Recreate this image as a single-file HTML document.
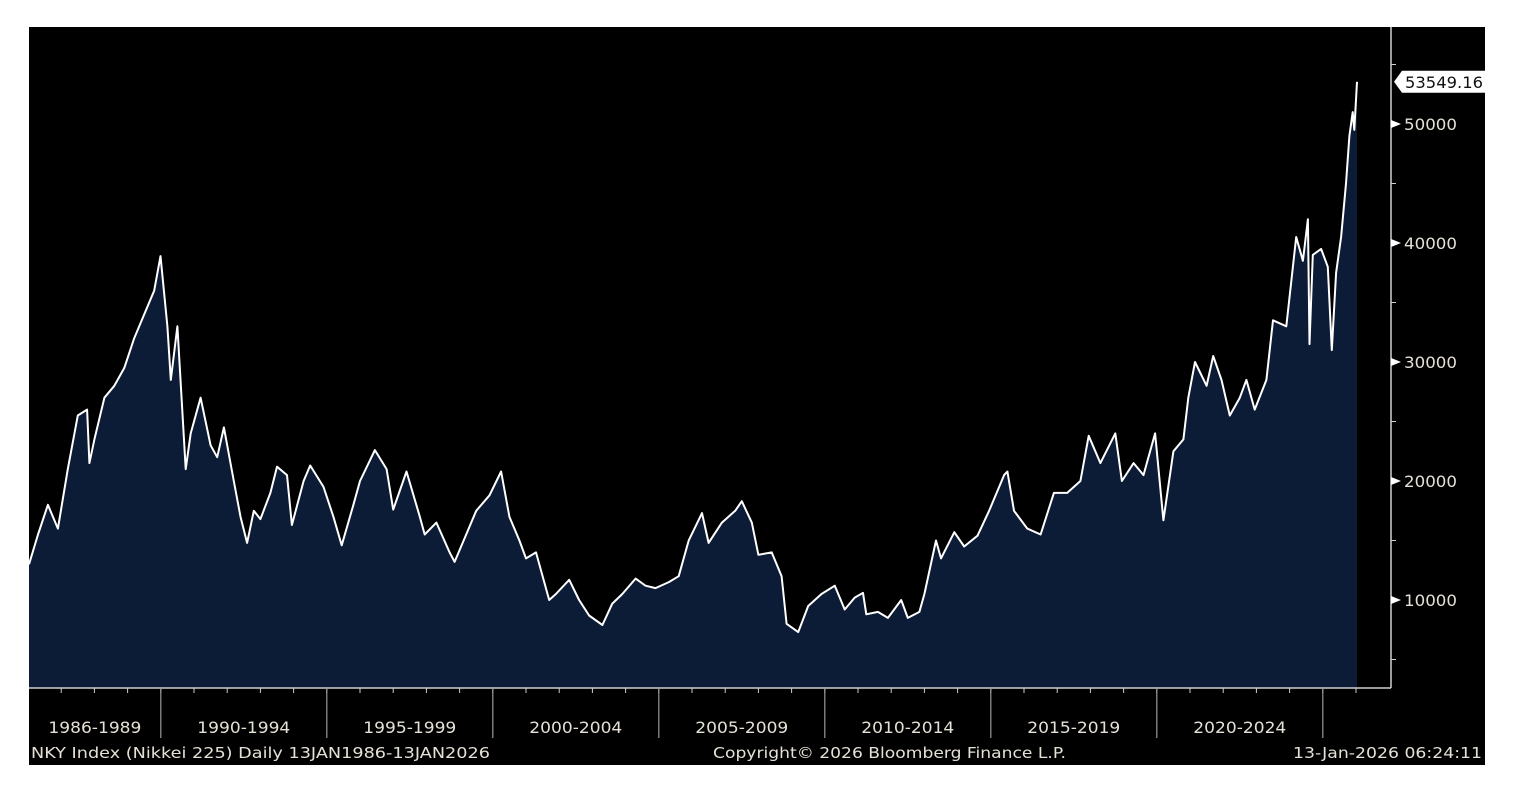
<!DOCTYPE html>
<html><head><meta charset="utf-8"><style>
html,body{margin:0;padding:0;background:#fff;}
svg{display:block;font-family:"DejaVu Sans","Liberation Sans",sans-serif;}
</style></head><body>
<svg id="chart" width="1526" height="798" viewBox="0 0 1526 798" xmlns="http://www.w3.org/2000/svg">
<rect x="29" y="27" width="1456" height="738" fill="#000"/>
<g id="plot"></g>
<g id="axes"></g>
<text x="31" y="758" font-size="15" fill="#e6e1d6" textLength="459" lengthAdjust="spacingAndGlyphs">NKY Index (Nikkei 225) Daily 13JAN1986-13JAN2026</text>
<text x="713" y="758" font-size="15" fill="#e6e1d6" textLength="353" lengthAdjust="spacingAndGlyphs">Copyright© 2026 Bloomberg Finance L.P.</text>
<text x="1293" y="758" font-size="15" fill="#e6e1d6" textLength="189" lengthAdjust="spacingAndGlyphs">13-Jan-2026 06:24:11</text>
</svg>
<script>
const dates=[1986.03,1986.3,1986.6,1986.9,1987.2,1987.5,1987.78,1987.85,1988.0,1988.3,1988.6,1988.9,1989.2,1989.5,1989.8,1989.99,1990.2,1990.3,1990.5,1990.75,1990.9,1991.2,1991.5,1991.7,1991.9,1992.2,1992.4,1992.6,1992.8,1993.0,1993.3,1993.5,1993.8,1993.95,1994.3,1994.5,1994.9,1995.2,1995.45,1995.8,1996.0,1996.45,1996.8,1997.0,1997.4,1997.8,1997.95,1998.3,1998.7,1998.85,1999.2,1999.5,1999.9,2000.25,2000.5,2000.8,2001.0,2001.3,2001.7,2001.9,2002.3,2002.6,2002.9,2003.3,2003.6,2003.9,2004.3,2004.6,2004.9,2005.3,2005.6,2005.9,2006.3,2006.5,2006.9,2007.3,2007.5,2007.8,2008.0,2008.4,2008.7,2008.85,2009.2,2009.5,2009.9,2010.3,2010.6,2010.9,2011.15,2011.25,2011.6,2011.9,2012.3,2012.5,2012.85,2013.0,2013.35,2013.5,2013.9,2014.2,2014.6,2014.95,2015.4,2015.5,2015.7,2016.1,2016.5,2016.9,2017.3,2017.7,2017.95,2018.3,2018.75,2018.95,2019.3,2019.6,2019.95,2020.2,2020.5,2020.8,2020.95,2021.15,2021.5,2021.7,2021.95,2022.2,2022.5,2022.7,2022.95,2023.3,2023.5,2023.9,2024.2,2024.4,2024.55,2024.6,2024.7,2024.95,2025.15,2025.27,2025.4,2025.55,2025.7,2025.8,2025.9,2025.95,2026.03];
const values=[13000,15500,18000,16000,21000,25500,26000,21500,23500,27000,28000,29500,32000,34000,36000,38900,33000,28500,33000,21000,24000,27000,23000,22000,24500,20000,17000,14800,17500,16800,19000,21200,20500,16300,20000,21300,19500,17000,14600,18000,20000,22600,21000,17600,20800,17000,15500,16500,14000,13200,15500,17500,18800,20800,17000,15000,13500,14000,10000,10500,11700,10000,8700,7900,9700,10500,11800,11200,11000,11500,12000,15000,17300,14800,16500,17500,18300,16500,13800,14000,12000,8000,7300,9500,10500,11200,9200,10200,10600,8800,9000,8500,10000,8500,9000,10500,15000,13500,15700,14500,15400,17500,20500,20800,17500,16000,15500,19000,19000,20000,23800,21500,24000,20000,21500,20500,24000,16700,22500,23500,27000,30000,28000,30500,28500,25500,27000,28500,26000,28500,33500,33000,40500,38500,42000,31500,39000,39500,38000,31000,37500,40500,45000,49000,51000,49500,53549];
const yTicks=[10000,20000,30000,40000,50000];
const yMinor=[5000,15000,25000,35000,45000,55000];
const periodLabels=["1986-1989","1990-1994","1995-1999","2000-2004","2005-2009","2010-2014","2015-2019","2020-2024"];
const periodStarts=[1986.03,1990,1995,2000,2005,2010,2015,2020];
const lastValueLabel="53549.16";

const NS="http://www.w3.org/2000/svg";
const X0=29,XR=1391,YB=688,YT=27;
const xS=d=>29+(d-1986.03)*33.2;
const yS=v=>600-(v-10000)*0.0119;
function mk(tag,attrs,parent){const e=document.createElementNS(NS,tag);for(const k in attrs)e.setAttribute(k,attrs[k]);parent.appendChild(e);return e;}
const plot=document.getElementById('plot'),axes=document.getElementById('axes');
let pts=dates.map((d,i)=>xS(d).toFixed(1)+","+yS(values[i]).toFixed(1));
const area=mk('polygon',{points:xS(dates[0])+","+YB+" "+pts.join(" ")+" "+xS(dates[dates.length-1])+","+YB,fill:"#0c1b36"},plot);


const line=mk('polyline',{points:pts.join(" "),fill:"none",stroke:"#fff","stroke-width":"2","stroke-linejoin":"round"},plot);


const ax=mk('line',{x1:X0,y1:YB,x2:XR,y2:YB,stroke:"#d0d0d0","stroke-width":"1.5"},axes);


const ay=mk('line',{x1:XR,y1:YT,x2:XR,y2:YB,stroke:"#d0d0d0","stroke-width":"1.5"},axes);


for(let y=1987;y<=2026;y++){const x=xS(y);const t=mk('line',{x1:x,y1:YB,x2:x,y2:YB+5,stroke:"#d0d0d0","stroke-width":"1"},axes);

}
periodStarts.forEach((s,i)=>{
  if(i>0){const x=xS(s);const sep=mk('line',{x1:x,y1:YB,x2:x,y2:738,stroke:"#9a9a9a","stroke-width":"1.2"},axes);
  
  }
  const end=i<periodStarts.length-1?periodStarts[i+1]:2025;
  const tx=mk('text',{x:(xS(s)+xS(end))/2,y:733,"font-size":"16","fill":"#e6e1d6","text-anchor":"middle",textLength:"93",lengthAdjust:"spacingAndGlyphs"},axes);
  tx.textContent=periodLabels[i];
  
  
});
{const x=xS(2025);const sep=mk('line',{x1:x,y1:YB,x2:x,y2:738,stroke:"#9a9a9a","stroke-width":"1.2"},axes);

}
yTicks.forEach(v=>{const y=yS(v);
  const tri=mk('polygon',{points:`${XR},${y-4} ${XR+10},${y} ${XR},${y+4}`,fill:"#fff"},axes);
  
  
  const tx=mk('text',{x:XR+13,y:y+6,"font-size":"16","fill":"#e6e1d6",textLength:"53",lengthAdjust:"spacingAndGlyphs"},axes);
  tx.textContent=v;
  
  
});
yMinor.forEach(v=>{const y=yS(v);const t=mk('line',{x1:XR,y1:y,x2:XR+5,y2:y,stroke:"#d0d0d0"},axes);

});
{const v=values[values.length-1];const y=yS(v);
 const box=mk('polygon',{points:`${XR+3},${y} ${XR+11},${y-11} 1485,${y-11} 1485,${y+11} ${XR+11},${y+11}`,fill:"#fff"},axes);
 
 
 const tx=mk('text',{x:XR+14,y:y+6,"font-size":"16","fill":"#111",textLength:"78",lengthAdjust:"spacingAndGlyphs"},axes);
 tx.textContent=lastValueLabel;
 
 }
</script>
</body></html>
